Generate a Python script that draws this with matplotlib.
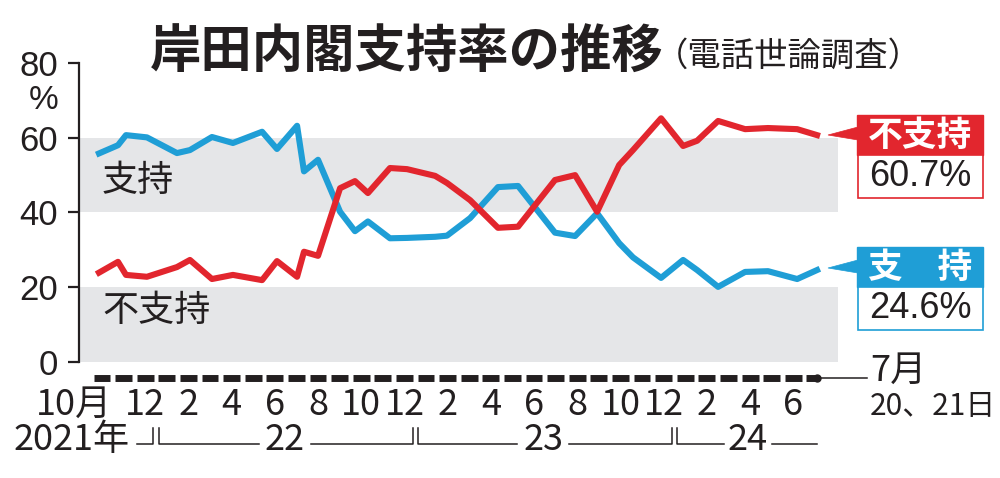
import matplotlib.pyplot as plt
from matplotlib.patches import Rectangle, Polygon

# poll timing: months since Oct 2021 (0 = Oct 2021, 33 = Jul 2024)
poll_month = [-0.14, 0.74, 1.11, 2.08, 3.47, 4.07, 5.09, 6.06, 7.41, 8.10,
              9.03, 9.35, 10.0, 11.02, 11.71, 12.31, 13.33, 14.12, 15.42, 15.97,
              17.04, 18.33, 19.26, 20.97, 21.90, 22.92, 23.94, 24.58, 25.88, 26.90,
              27.55, 28.52, 29.77, 30.83, 32.18, 33.10]
support = [55.8, 58.0, 60.7, 60.1, 55.9, 56.7, 60.2, 58.6, 61.6, 57.0,
           63.2, 51.0, 54.1, 40.2, 35.0, 37.6, 33.1, 33.2, 33.5, 33.8,
           38.5, 46.8, 47.1, 34.6, 33.7, 39.8, 31.8, 28.0, 22.5, 27.3,
           24.6, 20.1, 24.1, 24.3, 22.2, 24.6]
disapprove = [23.9, 26.8, 23.3, 22.8, 25.4, 27.3, 22.2, 23.3, 21.9, 27.0,
              22.8, 29.5, 28.4, 46.5, 48.4, 45.2, 51.9, 51.6, 49.8, 47.9,
              43.3, 35.9, 36.2, 48.7, 50.0, 40.2, 52.7, 56.7, 65.2, 57.8,
              59.2, 64.5, 62.3, 62.6, 62.3, 60.7]

month_ticks = [0, 2, 4, 6, 8, 10, 12, 14, 16, 18, 20, 22, 24, 26, 28, 30, 32]
month_labels = ["10月", "12", "2", "4", "6", "8", "10", "12", "2", "4",
                "6", "8", "10", "12", "2", "4", "6"]
n_months = 34
year_boundaries = [2.5, 14.5, 26.5]
year_labels = ["22", "23", "24"]
year_label_pos = [8.47, 20.42, 29.9]

RED = "#e2262e"
BLUE = "#1f9ed6"
GRAY = "#e5e6e8"
INK = "#231f20"
JP = ["Noto Sans CJK JP", "DejaVu Sans"]
NUM = ["Liberation Sans", "Noto Sans CJK JP"]
NARROW = ["Liberation Sans Narrow", "Noto Sans CJK JP"]

fig = plt.figure(figsize=(10, 4.78), dpi=100)
ax = fig.add_axes([0.079, 0.2427, 0.759, 0.6255])
ax.set_xlim(-1.065, 34.07)
ax.set_ylim(0, 80)

ax.axhspan(0, 20, color=GRAY, lw=0, zorder=0)
ax.axhspan(40, 60, color=GRAY, lw=0, zorder=0)

ax.plot(poll_month, support, color=BLUE, lw=4.4, zorder=3)
ax.plot(poll_month, disapprove, color=RED, lw=4.4, zorder=3)

for s in ["top", "right", "bottom"]:
    ax.spines[s].set_visible(False)
ax.spines["left"].set_linewidth(1.6)
ax.spines["left"].set_color(INK)
ax.set_xticks([])
ax.set_yticks([0, 20, 40, 60, 80])
ax.tick_params(axis="y", length=8, width=1.6, color=INK, pad=7)
for lab in ax.get_yticklabels():
    lab.set_fontfamily(NUM)
    lab.set_fontsize(25)
    lab.set_color(INK)

ax.text(0.0, 48.4, "支持", fontsize=26, family=JP, color=INK, ha="left", va="center")
ax.text(0.0, 13.6, "不支持", fontsize=26, family=JP, color=INK, ha="left", va="center")

# month dashes below the plot
y_dash = -4.3
last = poll_month[-1]
for m in range(n_months):
    x0, x1 = m - 0.39, min(m + 0.39, last)
    ax.plot([x0, x1], [y_dash, y_dash], color=INK, lw=5, solid_capstyle="butt",
            clip_on=False)
ax.plot([last], [y_dash], "o", color=INK, ms=5, clip_on=False)
ax.plot([last, 35.4], [y_dash, y_dash], color=INK, lw=1.1, clip_on=False)
ax.text(35.55, -2.4, "7月", fontsize=26, family=NARROW, color=INK, ha="left", va="center")
ax.text(35.56, -11.8, "20、21日", fontsize=21.5, family=NARROW, color=INK,
        ha="left", va="center")

for m, lab in zip(month_ticks, month_labels):
    if lab.endswith("月"):
        ax.text(m + 0.45, -11.5, lab, fontsize=26, family=NARROW, color=INK,
                ha="right", va="center", clip_on=False)
    else:
        ax.text(m, -11.5, lab, fontsize=26, family=NARROW, color=INK,
                ha="center", va="center", clip_on=False)

# year row
y_year = -20.9
y_bl, y_bt = -21.9, -17.6
ax.text(1.3, y_year, "2021年", fontsize=26, family=NARROW, color=INK,
        ha="right", va="center")
seg = dict(color=INK, lw=1.1, clip_on=False)
ax.plot([1.62, year_boundaries[0] - 0.12, year_boundaries[0] - 0.12],
        [y_bl, y_bl, y_bt], **seg)
gaps = [1.2, 1.2, 1.1]
for i, (b, lab, pos) in enumerate(zip(year_boundaries, year_labels, year_label_pos)):
    ax.text(pos, y_year, lab, fontsize=26, family=NARROW, color=INK,
            ha="center", va="center")
    ax.plot([b + 0.12, b + 0.12, pos - gaps[i]], [y_bt, y_bl, y_bl], **seg)
    if i + 1 < len(year_boundaries):
        nb = year_boundaries[i + 1]
        ax.plot([pos + gaps[i], nb - 0.12, nb - 0.12], [y_bl, y_bl, y_bt], **seg)
    else:
        ax.plot([pos + gaps[i], last], [y_bl, y_bl], **seg)

# overlay in pixel coordinates for title and end labels
ov = fig.add_axes([0, 0, 1, 1], zorder=5)
ov.set_xlim(0, 1000)
ov.set_ylim(478, 0)
ov.axis("off")

ov.text(150, 52, "岸田内閣支持率の推移", fontsize=37, family=JP, weight="bold",
        color=INK, ha="left", va="center")
ov.text(655, 56, "（電話世論調査）", fontsize=24, family=JP, color=INK,
        ha="left", va="center")
ov.text(44, 100, "%", fontsize=24, family=NUM, color=INK, ha="center", va="center")

boxes = [(RED, "不支持", "60.7%", 115, 135),
         (BLUE, "支　持", "24.6%", 247, 268)]
for col, name, val, top, tip in boxes:
    ov.add_patch(Rectangle((857, top), 126, 40, fc=col, ec=col, lw=1))
    ov.add_patch(Rectangle((857.5, top + 40), 125, 43, fc="white", ec=col, lw=1.2))
    ov.add_patch(Polygon([(828, tip), (858, tip - 8), (858, tip + 5)],
                         closed=True, fc=col, ec=col, lw=0.5))
    ov.text(920, top + 20, name, fontsize=25, family=JP, weight="bold",
            color="white", ha="center", va="center")
    ov.text(920, top + 62, val, fontsize=26, family=NUM, color=INK,
            ha="center", va="center")

fig.savefig("out.png", dpi=100)
